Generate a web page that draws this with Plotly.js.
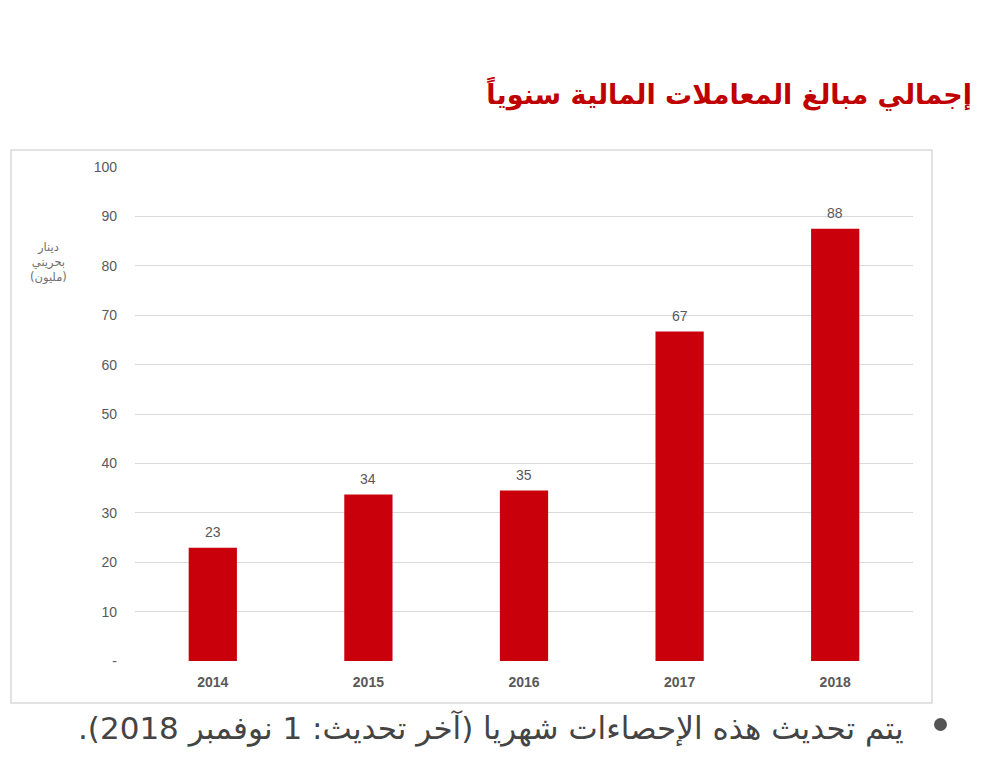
<!DOCTYPE html>
<html>
<head>
<meta charset="utf-8">
<script src="https://cdn.plot.ly/plotly-3.0.1.min.js"></script>
<style>html,body{margin:0;padding:0;background:#fff;}#chart{width:1000px;height:783px;}</style>
</head>
<body>
<div id="chart"></div>
<script>
// ---- data ----
var years = ['2014', '2015', '2016', '2017', '2018'];
var amounts = [22.9, 33.7, 34.5, 66.7, 87.5];
var amountLabels = ['23', '34', '35', '67', '88'];
var yTickVals = [0, 10, 20, 30, 40, 50, 60, 70, 80, 90, 100];
var yTickText = ['-', '10', '20', '30', '40', '50', '60', '70', '80', '90', '100'];
var titleText = 'إجمالي مبالغ المعاملات المالية سنوياً';
var yLabelText = 'دينار<br>بحريني<br>(مليون)';
var footText = 'يتم تحديث هذه الإحصاءات شهريا (آخر تحديث: 1 نوفمبر 2018).';

// ---- layout geometry (pixels) ----
var W = 1000, H = 783;
var L = 135, R = 913, T = 167, B = 661;
var pw = R - L, ph = B - T;
function px(x) { return (x - L) / pw; }
function py(y) { return (B - y) / ph; }

var trace = {
  type: 'bar',
  x: years,
  y: amounts,
  marker: { color: '#c9000b' },
  hoverinfo: 'x+y'
};

var annotations = years.map(function (yr, i) {
  return {
    x: i, y: amounts[i], xref: 'x', yref: 'y',
    text: amountLabels[i], showarrow: false,
    yanchor: 'bottom', yshift: 6,
    font: { family: 'Liberation Sans, Arial, sans-serif', size: 14, color: '#595959' }
  };
});
annotations.push({
  xref: 'paper', yref: 'paper', x: px(48), y: py(262),
  xanchor: 'center', yanchor: 'middle', showarrow: false,
  text: yLabelText, align: 'center',
  font: { family: 'DejaVu Sans, sans-serif', size: 11.5, color: '#6f6f6f' }
});
annotations.push({
  xref: 'paper', yref: 'paper', x: px(906), y: py(728),
  xanchor: 'right', yanchor: 'middle', showarrow: false,
  text: '\u202B' + footText + '\u202C',
  font: { family: 'DejaVu Sans, sans-serif', size: 31, color: '#444444' }
});

var shapes = [
  { type: 'rect', xref: 'paper', yref: 'paper',
    x0: px(11), x1: px(932), y0: py(703), y1: py(150),
    line: { color: '#d9d9d9', width: 1.5 }, fillcolor: 'rgba(0,0,0,0)', layer: 'below' },
  { type: 'circle', xref: 'paper', yref: 'paper',
    x0: px(934), x1: px(947), y0: py(731), y1: py(718),
    line: { width: 0 }, fillcolor: '#555555' }
];

var layout = {
  width: W, height: H,
  margin: { l: L, r: W - R, t: T, b: H - B, pad: 0 },
  paper_bgcolor: '#ffffff', plot_bgcolor: '#ffffff',
  showlegend: false,
  bargap: 0.69,
  title: {
    text: '<b>\u202B' + titleText + '\u202C</b>',
    xref: 'container', yref: 'container',
    x: 972 / W, xanchor: 'right',
    y: 1 - 95 / H, yanchor: 'middle',
    font: { family: 'DejaVu Sans, sans-serif', size: 27, color: '#c00000' }
  },
  xaxis: {
    type: 'category',
    range: [-0.5, years.length - 0.5],
    showgrid: false, zeroline: false, showline: false,
    ticks: '', ticklabelstandoff: 11,
    tickfont: { family: 'Liberation Sans, Arial, sans-serif', size: 14, color: '#595959', weight: 'bold' },
    fixedrange: true
  },
  yaxis: {
    range: [0, 100],
    tickvals: yTickVals, ticktext: yTickText,
    showgrid: true, gridcolor: '#d9d9d9', gridwidth: 1,
    zeroline: false, showline: false,
    ticks: '', ticklabelstandoff: 17,
    tickfont: { family: 'Liberation Sans, Arial, sans-serif', size: 14, color: '#595959' },
    fixedrange: true
  },
  annotations: annotations,
  shapes: shapes
};

Plotly.newPlot('chart', [trace], layout, { displayModeBar: false, staticPlot: true });
</script>
</body>
</html>
